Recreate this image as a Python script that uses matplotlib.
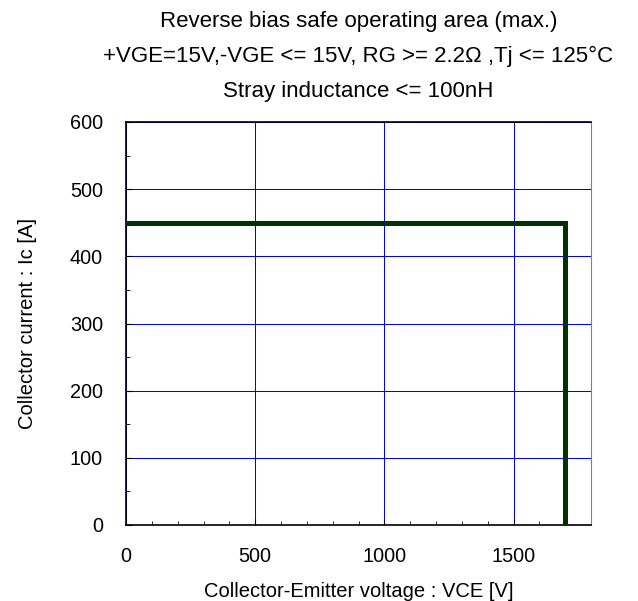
import numpy as np
import matplotlib
matplotlib.use("Agg")
import matplotlib.pyplot as plt
from matplotlib.ticker import MultipleLocator

plt.rcParams['font.family'] = ['Liberation Sans', 'DejaVu Sans']

# RBSOA boundary (max.)
vce = [0, 1700, 1700]
ic = [450, 450, 0]

title_lines = ["Reverse bias safe operating area (max.)",
               "+VGE=15V,-VGE <= 15V, RG >= 2.2\u03a9 ,Tj <= 125\u00b0C",
               "Stray inductance <= 100nH"]
title_base = [27.3, 62.0, 96.7]  # baselines, px from top

W, H = 638, 601
fig = plt.figure(figsize=(W / 100, H / 100), dpi=100)
ax = fig.add_axes([126 / W, 1 - 525 / H, (591 - 126) / W, (525 - 122) / H])

ax.plot(vce, ic, color='#003300', lw=3.6, solid_joinstyle='miter', zorder=3)

ax.set_xlim(0, 1800)
ax.set_ylim(0, 600)
ax.xaxis.set_major_locator(MultipleLocator(500))
ax.xaxis.set_minor_locator(MultipleLocator(100))
ax.yaxis.set_major_locator(MultipleLocator(100))
ax.yaxis.set_minor_locator(MultipleLocator(50))
ax.tick_params(which='both', direction='in', labelsize=14.3, top=False, right=False, colors='black')
ax.tick_params(which='major', length=4)
ax.tick_params(which='minor', length=3)
ax.tick_params(axis='x', which='major', pad=15.5)
ax.tick_params(axis='y', which='major', pad=16.5)
ax.grid(True, which='major', color='#0000ff', lw=0.75)

for s in ['left', 'bottom', 'top']:
    ax.spines[s].set_color('black')
    ax.spines[s].set_linewidth(1.2)
ax.spines['right'].set_color('#808080')

ax.set_xlabel('Collector-Emitter voltage : VCE [V]', fontsize=14.5)
ax.set_ylabel('Collector current : Ic [A]', fontsize=14.5)
ax.xaxis.label.set_va('baseline')
ax.xaxis.set_label_coords(0.5, (525 - 597) / 403)
ax.yaxis.label.set_va('baseline')
ax.yaxis.set_label_coords((33 - 126) / 465, 0.5)

cx = (126 + 591) / 2 / W
for t, yb in zip(title_lines, title_base):
    fig.text(cx, 1 - yb / H, t, ha='center', va='baseline', fontsize=16)

fig.savefig('out.png', dpi=100)
